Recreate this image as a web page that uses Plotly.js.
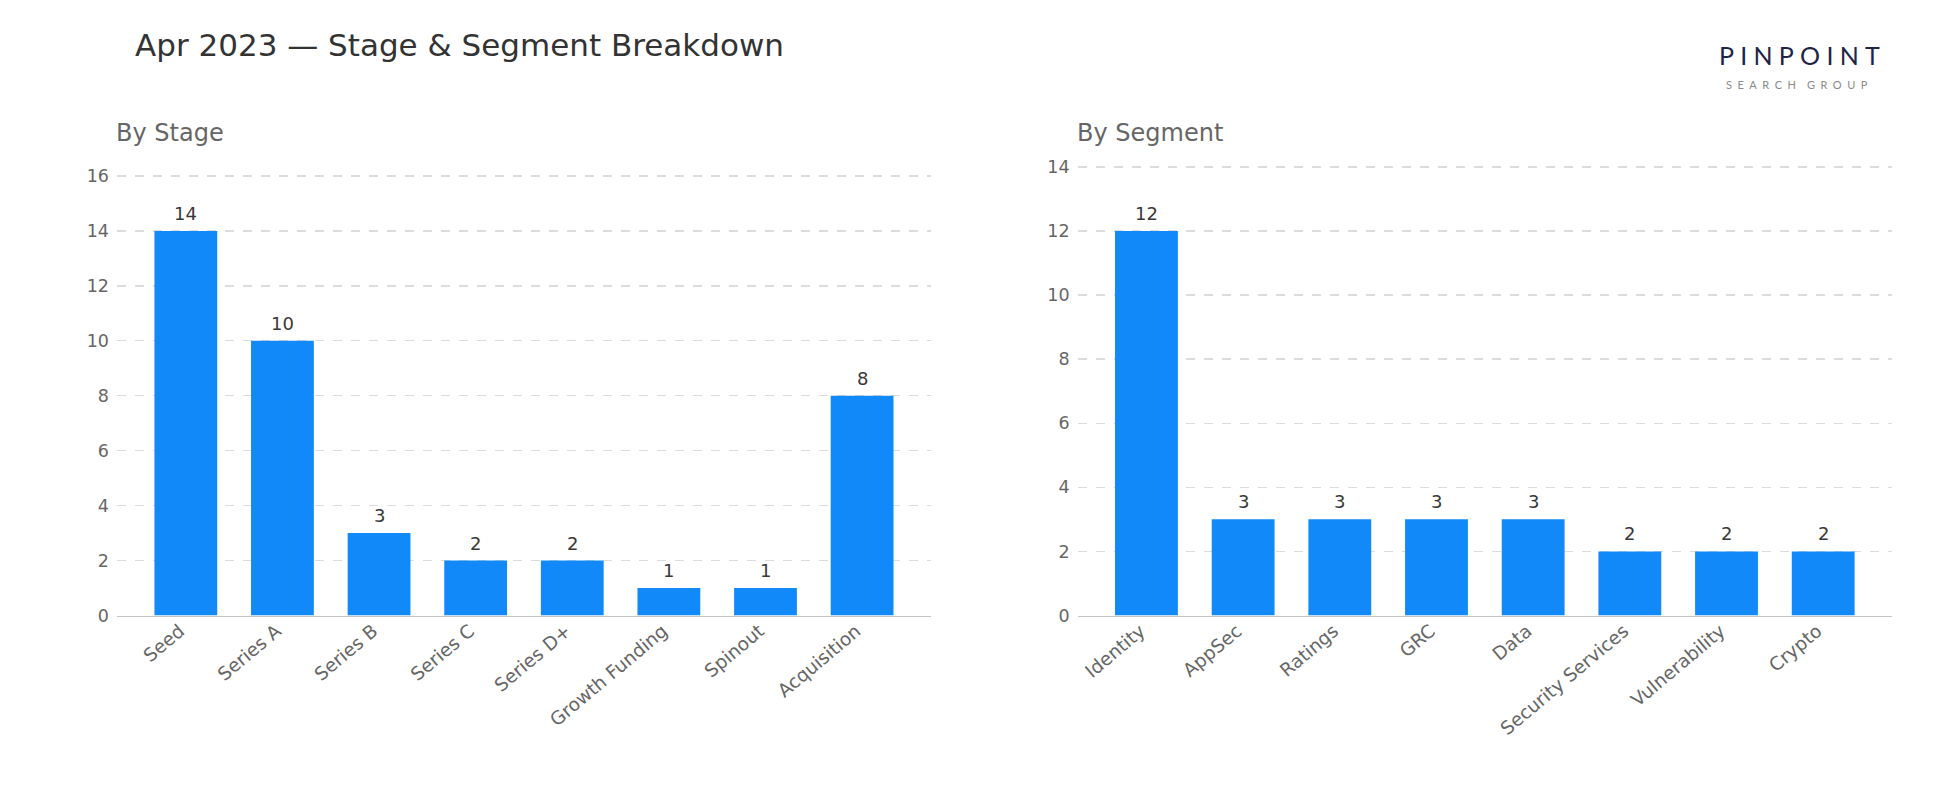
<!DOCTYPE html>
<html>
<head>
<meta charset="utf-8">
<script src="https://cdn.plot.ly/plotly-3.0.1.min.js"></script>
<style>
  html, body { margin: 0; padding: 0; background: #ffffff; }
  #chart { width: 1950px; height: 810px; }
</style>
</head>
<body>
<div id="chart"></div>
<script>
// Deal counts for April 2023
const stageCategories = ["Seed", "Series A", "Series B", "Series C", "Series D+", "Growth Funding", "Spinout", "Acquisition"];
const stageCounts = [14, 10, 3, 2, 2, 1, 1, 8];

const segmentCategories = ["Identity", "AppSec", "Ratings", "GRC", "Data", "Security Services", "Vulnerability", "Crypto"];
const segmentCounts = [12, 3, 3, 3, 3, 2, 2, 2];

const stageTicks = [0, 2, 4, 6, 8, 10, 12, 14, 16];
const segmentTicks = [0, 2, 4, 6, 8, 10, 12, 14];

const BAR_COLOR = "#1189f8";
const FONT = "DejaVu Sans, Verdana, sans-serif";

const traces = [
  {
    type: "bar", x: stageCategories, y: stageCounts,
    xaxis: "x", yaxis: "y", width: 0.65,
    marker: { color: BAR_COLOR }, hoverinfo: "x+y"
  },
  {
    type: "bar", x: segmentCategories, y: segmentCounts,
    xaxis: "x2", yaxis: "y2", width: 0.65,
    marker: { color: BAR_COLOR }, hoverinfo: "x+y"
  }
];

// value labels sitting just above each bar
function valueLabels(cats, vals, xref, yref) {
  return cats.map((c, i) => ({
    x: c, y: vals[i], xref: xref, yref: yref,
    text: String(vals[i]), showarrow: false,
    yanchor: "bottom", yshift: 5,
    font: { family: FONT, size: 18, color: "#383838" }
  }));
}

function xAxis(domain, anchor) {
  return {
    domain: domain, anchor: anchor, type: "category",
    range: [-0.7125, 7.7125],
    showgrid: false, zeroline: false,
    showline: true, linecolor: "#c4c4c4", linewidth: 1.6,
    ticks: "", tickangle: -40,
    ticklabelshift: -6, ticklabelstandoff: -4,
    tickfont: { family: FONT, size: 18.5, color: "#666666" },
    fixedrange: true
  };
}

function yAxis(domain, anchor, maxVal, ticks) {
  return {
    domain: domain, anchor: anchor,
    range: [0, maxVal * 1.2],
    tickmode: "array", tickvals: ticks, ticktext: ticks.map(String),
    showgrid: true, gridcolor: "#dcdcdc", gridwidth: 1.4, griddash: "dash",
    zeroline: false, showline: false, ticks: "",
    ticklabelstandoff: 7,
    tickfont: { family: FONT, size: 17.5, color: "#666666" },
    fixedrange: true
  };
}

const yDomain = [0.2401, 0.8099];

const layout = {
  width: 1950, height: 810,
  paper_bgcolor: "#ffffff", plot_bgcolor: "#ffffff",
  margin: { l: 0, r: 0, t: 0, b: 0 },
  showlegend: false,
  bargap: 0.35,
  xaxis: xAxis([0.0600, 0.4774], "y"),
  yaxis: yAxis(yDomain, "x", Math.max(...stageCounts), stageTicks),
  xaxis2: xAxis([0.5526, 0.9703], "y2"),
  yaxis2: yAxis(yDomain, "x2", Math.max(...segmentCounts), segmentTicks),
  annotations: [
    {
      text: "Apr 2023 — Stage & Segment Breakdown",
      xref: "paper", yref: "paper", x: 0.0695, y: 0.9444, xshift: -3,
      xanchor: "left", yanchor: "middle", showarrow: false,
      font: { family: FONT, size: 31, color: "#333333" }
    },
    {
      text: "By Stage",
      xref: "paper", yref: "paper", x: 0.0600, y: 0.8358, xshift: -3,
      xanchor: "left", yanchor: "middle", showarrow: false,
      font: { family: FONT, size: 24, color: "#666666" }
    },
    {
      text: "By Segment",
      xref: "paper", yref: "paper", x: 0.5526, y: 0.8358, xshift: -3,
      xanchor: "left", yanchor: "middle", showarrow: false,
      font: { family: FONT, size: 24, color: "#666666" }
    },
    {
      text: "P\u2005I\u2005N\u2005P\u2005O\u2005I\u2005N\u2005T",
      xref: "paper", yref: "paper", x: 0.9226, y: 0.9320,
      xanchor: "center", yanchor: "middle", showarrow: false,
      font: { family: "Lato, Inter, sans-serif", size: 25, color: "#1f2447" }
    },
    {
      text: "S\u2002E\u2002A\u2002R\u2002C\u2002H\u2002\u2002G\u2002R\u2002O\u2002U\u2002P",
      xref: "paper", yref: "paper", x: 0.9215, y: 0.8955,
      xanchor: "center", yanchor: "middle", showarrow: false,
      font: { family: "Lato, Inter, sans-serif", size: 11, color: "#8a8a8a" }
    }
  ]
    .concat(valueLabels(stageCategories, stageCounts, "x", "y"))
    .concat(valueLabels(segmentCategories, segmentCounts, "x2", "y2"))
};

Plotly.newPlot("chart", traces, layout, { displayModeBar: false, staticPlot: true });
</script>
</body>
</html>
